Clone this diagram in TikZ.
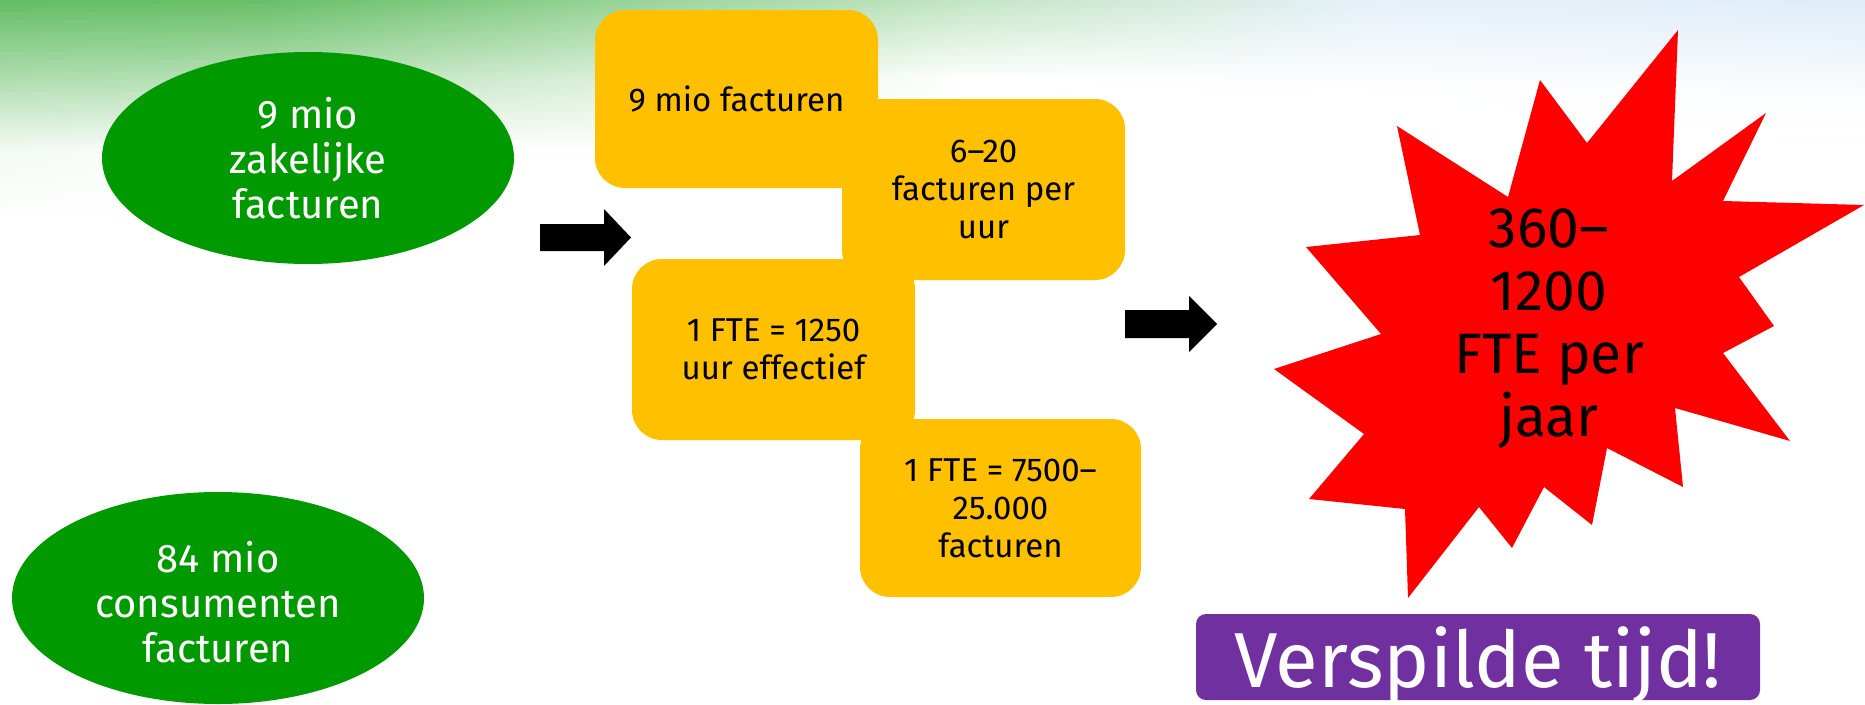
\documentclass[tikz,border=0pt]{standalone}
\usepackage{fontspec}
\setmainfont{Fira Sans}
\usetikzlibrary{shapes.geometric}
\definecolor{ggreen}{HTML}{009900}
\definecolor{gyellow}{HTML}{FFC000}
\definecolor{gpurple}{HTML}{7030A0}
\definecolor{bggreen}{RGB}{88,184,88}
\definecolor{bgblue}{RGB}{210,229,245}
\tikzset{
  oval/.style={ellipse, fill=ggreen, minimum width=412, minimum height=212, inner sep=0pt},
  ovaltext/.style={align=center, text=white, font=\fontsize{40}{45}\selectfont},
  ybox/.style={fill=gyellow, rounded corners=30, minimum width=283, minimum height=180, inner sep=0pt},
  ytext/.style={align=center, text=black, font=\fontsize{33}{38}\selectfont},
  blockarrow/.style={fill=black},
  startext/.style={align=center, text=black, font=\fontsize{57}{63}\selectfont},
  badge/.style={fill=gpurple, rounded corners=10, minimum width=564, minimum height=86, inner sep=0pt},
  badgetext/.style={text=white, font=\fontsize{78}{90}\selectfont, inner sep=0pt}
}
\begin{document}
\begin{tikzpicture}[x=1pt,y=-1pt]
\useasboundingbox (0,0) rectangle (1865,704);
% background gradient built from thin horizontally shaded strips
\foreach \i in {0,...,55} {
  \pgfmathtruncatemacro{\yy}{4*\i}
  \pgfmathtruncatemacro{\pa}{max(0,100-0.45*\yy)}
  \pgfmathtruncatemacro{\pb}{max(0,90-0.6*\yy)}
  \pgfmathtruncatemacro{\pc}{max(0,35-0.45*\yy)}
  \pgfmathtruncatemacro{\pd}{max(0,55-0.6*\yy)}
  \pgfmathtruncatemacro{\pe}{max(0,100-0.75*\yy)}
  \pgfdeclarehorizontalshading{bgs\i}{100bp}{color(0bp)=(bggreen!\pa!white); color(32bp)=(bggreen!\pb!white); color(51bp)=(bggreen!\pc!white); color(62bp)=(bgblue!\pd!white); color(100bp)=(bgblue!\pe!white)}
  \shade[shading=bgs\i] (0,\yy) rectangle (1865,\yy+5);
}
% ovals
\node[oval] (e1) at (308,158) {};
\node[ovaltext] at (e1.center) {9 mio\\zakelijke\\facturen};
\node[oval] (e2) at (218,598) {};
\node[ovaltext] at ([yshift=-4]e2.center) {84 mio\\consumenten\\facturen};
% yellow boxes
\node[ybox, minimum height=178] (b1) at (736.5,99) {};
\node[ybox, minimum height=181] (b2) at (983.5,189.5) {};
\node[ybox, minimum height=181] (b3) at (773.5,349.5) {};
\node[ybox, minimum width=281, minimum height=178] (b4) at (1000.5,508) {};
\node[ytext] at (b1.center) {9 mio facturen};
\node[ytext] at (b2.center) {6–20\\facturen per\\uur};
\node[ytext] at (b3.center) {1 FTE = 1250\\uur effectief};
\node[ytext] at (b4.center) {1 FTE = 7500–\\25.000\\facturen};
% block arrows
\fill[blockarrow] (540,224) -- (604,224) -- (604,209) -- (631,237.5) -- (604,266) -- (604,251) -- (540,251) -- cycle;
\fill[blockarrow] (1125,310) -- (1189,310) -- (1189,296) -- (1217,324) -- (1189,352) -- (1189,338) -- (1125,338) -- cycle;
% star
\fill[red] (1678,30) -- (1672,181) -- (1766,113) -- (1723,201) -- (1864,205) -- (1739,277)
  -- (1774,326) -- (1723,353) -- (1790,441) -- (1675,408) -- (1683,487) -- (1607,448)
  -- (1592,525) -- (1544,487) -- (1512,548) -- (1479,507) -- (1408,598) -- (1405,509)
  -- (1309,499) -- (1364,434) -- (1274,369) -- (1381,334) -- (1306,247) -- (1420,235)
  -- (1397,126) -- (1508,197) -- (1540,80) -- (1587,143) -- cycle;
\node[startext] (st) at (1549,329) {360–\\1200\\FTE per\\jaar};
% badge
\node[badge] (vt) at (1478,657) {};
\node[badgetext, anchor=base] at (1478,687) {Verspilde tijd!};
\end{tikzpicture}
\end{document}
